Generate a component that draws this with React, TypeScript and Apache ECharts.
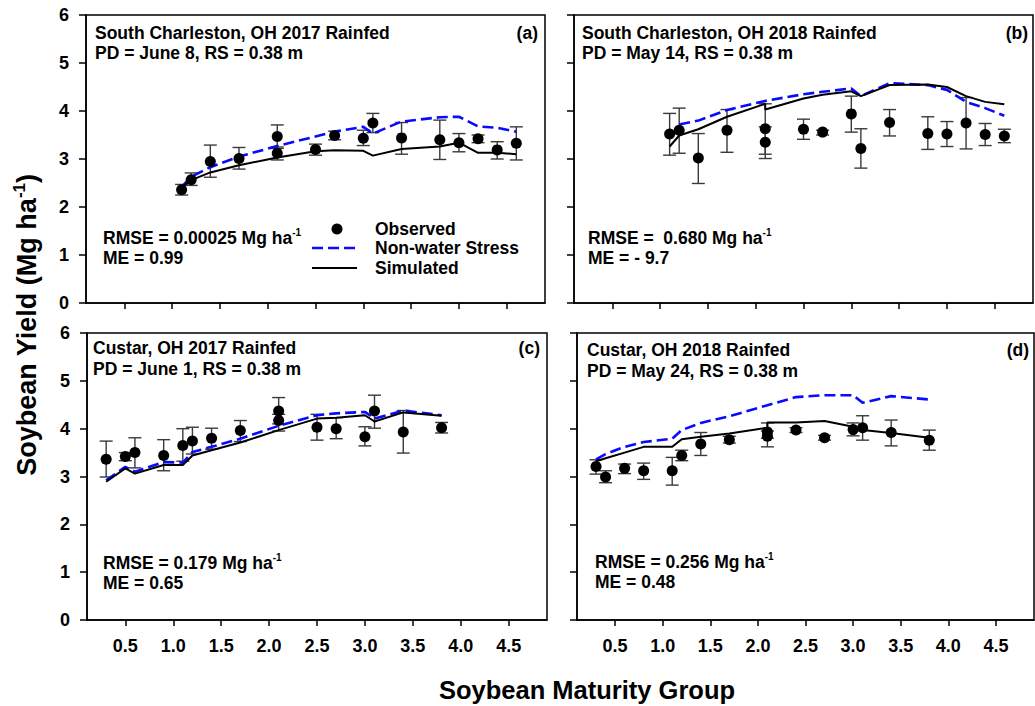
import React, { useEffect, useRef } from "react";
import * as echarts from "echarts";

// ---------- axis ticks ----------
const xTickValues = [0.5, 1.0, 1.5, 2.0, 2.5, 3.0, 3.5, 4.0, 4.5];

// ---------- Panel (a) South Charleston 2017 ----------
const aObsX = [1.1, 1.2, 1.4, 1.7, 2.1, 2.1, 2.5, 2.7, 3.0, 3.1, 3.4, 3.8, 4.0, 4.2, 4.4, 4.6];
const aObsY = [2.36, 2.57, 2.95, 3.01, 3.47, 3.12, 3.2, 3.49, 3.43, 3.75, 3.44, 3.4, 3.34, 3.42, 3.19, 3.33];
const aErrLo = [2.25, 2.45, 2.62, 2.79, 3.22, 2.98, 3.08, 3.4, 3.28, 3.55, 3.1, 2.99, 3.15, 3.34, 3.0, 2.98];
const aErrHi = [2.47, 2.71, 3.29, 3.24, 3.71, 3.25, 3.31, 3.58, 3.6, 3.95, 3.76, 3.81, 3.53, 3.5, 3.36, 3.67];
const aSimX = [1.1, 1.2, 1.4, 1.7, 2.1, 2.5, 2.7, 3.0, 3.1, 3.4, 3.8, 4.0, 4.2, 4.4, 4.6];
const aSim = [2.42, 2.56, 2.72, 2.87, 3.03, 3.16, 3.18, 3.17, 3.07, 3.21, 3.26, 3.34, 3.13, 3.13, 3.1];
const aNwsX = [1.1, 1.2, 1.4, 1.7, 2.1, 2.5, 2.7, 3.0, 3.1, 3.4, 3.8, 4.0, 4.2, 4.4, 4.6];
const aNws = [2.42, 2.63, 2.83, 3.05, 3.27, 3.47, 3.57, 3.67, 3.53, 3.78, 3.87, 3.88, 3.68, 3.65, 3.57];

// ---------- Panel (b) South Charleston 2018 ----------
const bObsX = [1.1, 1.2, 1.4, 1.7, 2.1, 2.1, 2.5, 2.7, 3.0, 3.1, 3.4, 3.8, 4.0, 4.2, 4.4, 4.6];
const bObsY = [3.52, 3.6, 3.02, 3.6, 3.63, 3.35, 3.62, 3.56, 3.94, 3.22, 3.76, 3.53, 3.52, 3.75, 3.51, 3.48];
const bErrLo = [3.08, 3.12, 2.49, 3.14, 3.1, 3.01, 3.41, 3.5, 3.56, 2.81, 3.48, 3.2, 3.26, 3.21, 3.28, 3.34];
const bErrHi = [3.95, 4.06, 3.53, 4.03, 4.15, 3.67, 3.83, 3.6, 4.31, 3.63, 4.03, 3.88, 3.78, 4.28, 3.74, 3.62];
const bSimX = [1.1, 1.2, 1.4, 1.7, 2.1, 2.1, 2.5, 2.7, 3.0, 3.1, 3.4, 3.8, 4.0, 4.2, 4.4, 4.6];
const bSim = [3.26, 3.49, 3.62, 3.88, 4.15, 4.03, 4.26, 4.34, 4.41, 4.31, 4.54, 4.55, 4.5, 4.31, 4.19, 4.14];
const bNwsX = [1.2, 1.4, 1.7, 2.1, 2.5, 2.7, 3.0, 3.1, 3.4, 3.8, 4.0, 4.2, 4.4, 4.6];
const bNws = [3.72, 3.8, 4.02, 4.21, 4.35, 4.4, 4.47, 4.31, 4.58, 4.54, 4.44, 4.19, 4.06, 3.9];

// ---------- Panel (c) Custar 2017 ----------
const cObsX = [0.3, 0.5, 0.6, 0.9, 1.1, 1.2, 1.4, 1.7, 2.1, 2.1, 2.5, 2.7, 3.0, 3.1, 3.4, 3.8];
const cObsY = [3.36, 3.42, 3.5, 3.44, 3.65, 3.74, 3.8, 3.96, 4.37, 4.17, 4.03, 4.0, 3.83, 4.37, 3.93, 4.02];
const cErrLo = [2.99, 3.33, 3.18, 3.12, 3.32, 3.47, 3.57, 3.73, 4.1, 3.95, 3.76, 3.79, 3.64, 4.01, 3.49, 3.91];
const cErrHi = [3.74, 3.5, 3.81, 3.77, 4.0, 4.03, 4.01, 4.17, 4.65, 4.3, 4.3, 4.23, 4.04, 4.7, 4.38, 4.13];
const cSimX = [0.3, 0.5, 0.6, 0.9, 1.1, 1.2, 1.4, 1.7, 2.1, 2.5, 2.7, 3.0, 3.1, 3.4, 3.8];
const cSim = [2.89, 3.17, 3.06, 3.24, 3.24, 3.44, 3.55, 3.71, 3.97, 4.21, 4.23, 4.28, 4.15, 4.34, 4.27];
const cNwsX = [0.3, 0.5, 0.6, 0.9, 1.1, 1.2, 1.4, 1.7, 2.1, 2.5, 2.7, 3.0, 3.1, 3.4, 3.8];
const cNws = [2.92, 3.2, 3.1, 3.3, 3.29, 3.51, 3.62, 3.79, 4.06, 4.28, 4.32, 4.35, 4.21, 4.38, 4.28];

// ---------- Panel (d) Custar 2018 ----------
const dObsX = [0.3, 0.4, 0.6, 0.8, 1.1, 1.2, 1.4, 1.7, 2.1, 2.1, 2.4, 2.7, 3.0, 3.1, 3.4, 3.8];
const dObsY = [3.21, 2.99, 3.17, 3.12, 3.12, 3.44, 3.68, 3.77, 3.93, 3.84, 3.97, 3.81, 3.98, 4.02, 3.92, 3.76];
const dErrLo = [3.05, 2.87, 3.06, 2.94, 2.82, 3.33, 3.44, 3.7, 3.8, 3.62, 3.92, 3.76, 3.85, 3.76, 3.64, 3.55];
const dErrHi = [3.35, 3.12, 3.26, 3.28, 3.4, 3.55, 3.92, 3.84, 4.12, 3.95, 4.02, 3.86, 4.12, 4.27, 4.18, 3.97];
const dSimX = [0.3, 0.4, 0.6, 0.8, 1.1, 1.2, 1.4, 1.7, 2.1, 2.1, 2.4, 2.7, 3.0, 3.1, 3.4, 3.8];
const dSim = [3.32, 3.38, 3.5, 3.62, 3.62, 3.78, 3.83, 3.9, 4.02, 4.13, 4.13, 4.16, 4.04, 3.97, 3.91, 3.81];
const dNwsX = [0.3, 0.4, 0.6, 0.8, 1.1, 1.2, 1.4, 1.7, 2.1, 2.4, 2.7, 3.0, 3.1, 3.4, 3.8];
const dNws = [3.36, 3.47, 3.62, 3.72, 3.79, 3.97, 4.12, 4.26, 4.49, 4.66, 4.7, 4.7, 4.54, 4.68, 4.61];

// ---------- texts ----------
const panelTitles = [
  "South Charleston, OH 2017 Rainfed",
  "South Charleston, OH 2018 Rainfed",
  "Custar, OH 2017 Rainfed",
  "Custar, OH 2018 Rainfed",
];
const panelSubtitles = [
  "PD = June 8, RS = 0.38 m",
  "PD = May 14, RS = 0.38 m",
  "PD = June 1, RS = 0.38 m",
  "PD = May 24, RS = 0.38 m",
];
const panelLetters = ["(a)", "(b)", "(c)", "(d)"];
const rmseTexts = ["RMSE = 0.00025 Mg ha", "RMSE =  0.680 Mg ha", "RMSE = 0.179 Mg ha", "RMSE = 0.256 Mg ha"];
const meTexts = ["ME = 0.99", "ME = - 9.7", "ME = 0.65", "ME = 0.48"];
const legendNames = ["Observed", "Non-water Stress", "Simulated"];

const FONT = "'Liberation Sans', Arial, Helvetica, sans-serif";
const BLUE = "#0a0aff";

const panels = [
  { obsX: aObsX, obsY: aObsY, lo: aErrLo, hi: aErrHi, simX: aSimX, sim: aSim, nwsX: aNwsX, nws: aNws },
  { obsX: bObsX, obsY: bObsY, lo: bErrLo, hi: bErrHi, simX: bSimX, sim: bSim, nwsX: bNwsX, nws: bNws },
  { obsX: cObsX, obsY: cObsY, lo: cErrLo, hi: cErrHi, simX: cSimX, sim: cSim, nwsX: cNwsX, nws: cNws },
  { obsX: dObsX, obsY: dObsY, lo: dErrLo, hi: dErrHi, simX: dSimX, sim: dSim, nwsX: dNwsX, nws: dNws },
];

// layout (pixels)
const gridBoxes = [
  { left: 86, top: 15, width: 459, height: 288 },
  { left: 574, top: 15, width: 459, height: 288 },
  { left: 87, top: 333, width: 460, height: 287 },
  { left: 577, top: 333, width: 457, height: 287 },
];
const textPos = [
  { tx: 95, t1: 33, t2: 53, lx: 538, rx: 103, r1: 238, r2: 258 },
  { tx: 582, t1: 33, t2: 53, lx: 1028, rx: 588, r1: 238, r2: 258 },
  { tx: 93, t1: 348, t2: 369, lx: 540, rx: 103, r1: 563, r2: 583 },
  { tx: 587, t1: 350, t2: 371, lx: 1029, rx: 595, r1: 562, r2: 582 },
];

function buildOption() {
  const grid: any[] = [];
  const xAxis: any[] = [];
  const yAxis: any[] = [];
  const series: any[] = [];
  const graphic: any[] = [];
  const f17 = `bold 17.5px ${FONT}`;

  panels.forEach((p, i) => {
    grid.push({
      ...gridBoxes[i],
      show: true,
      borderColor: "#000",
      borderWidth: 1.5,
      containLabel: false,
      outerBoundsMode: "none",
    });
    xAxis.push({
      gridIndex: i,
      type: "value",
      min: 0.1,
      max: 4.9,
      splitLine: { show: false },
      axisLine: { show: true, onZero: false, lineStyle: { color: "#000", width: 1.5 } },
      axisTick: {
        show: true,
        inside: false,
        length: 6,
        customValues: xTickValues,
        lineStyle: { color: "#000", width: 1.5 },
      },
      axisLabel: {
        show: i >= 2,
        customValues: xTickValues,
        formatter: (v: number) => v.toFixed(1),
        margin: 17,
        color: "#000",
        fontSize: 18,
        fontWeight: "bold",
        fontFamily: FONT,
      },
    });
    yAxis.push({
      gridIndex: i,
      type: "value",
      min: 0,
      max: 6,
      interval: 1,
      splitLine: { show: false },
      axisLine: { show: true, onZero: false, lineStyle: { color: "#000", width: 1.5 } },
      axisTick: { show: true, inside: false, length: 7, lineStyle: { color: "#000", width: 1.5 } },
      axisLabel: {
        show: i % 2 === 0,
        margin: 17,
        color: "#000",
        fontSize: 18,
        fontWeight: "bold",
        fontFamily: FONT,
      },
    });

    series.push({
      type: "custom",
      name: "Error",
      xAxisIndex: i,
      yAxisIndex: i,
      z: 2,
      silent: true,
      encode: { x: 0, y: [1, 2] },
      data: p.obsX.map((x, k) => [x, p.lo[k], p.hi[k]]),
      renderItem: (params: any, api: any) => {
        const x = api.value(0);
        const lo = api.coord([x, api.value(1)]);
        const hi = api.coord([x, api.value(2)]);
        const w = 6.5;
        const st = { stroke: "#3a3a3a", lineWidth: 1.4 };
        return {
          type: "group",
          children: [
            { type: "line", shape: { x1: lo[0], y1: lo[1], x2: hi[0], y2: hi[1] }, style: st },
            { type: "line", shape: { x1: lo[0] - w, y1: lo[1], x2: lo[0] + w, y2: lo[1] }, style: st },
            { type: "line", shape: { x1: hi[0] - w, y1: hi[1], x2: hi[0] + w, y2: hi[1] }, style: st },
          ],
        };
      },
    });
    series.push({
      type: "line",
      name: legendNames[1],
      xAxisIndex: i,
      yAxisIndex: i,
      z: 3,
      symbol: "none",
      showSymbol: false,
      data: p.nwsX.map((x, k) => [x, p.nws[k]]),
      lineStyle: { color: BLUE, width: 2.6, type: [11, 5] },
    });
    series.push({
      type: "line",
      name: legendNames[2],
      xAxisIndex: i,
      yAxisIndex: i,
      z: 4,
      symbol: "none",
      showSymbol: false,
      data: p.simX.map((x, k) => [x, p.sim[k]]),
      lineStyle: { color: "#000", width: 2 },
    });
    series.push({
      type: "scatter",
      name: legendNames[0],
      xAxisIndex: i,
      yAxisIndex: i,
      z: 5,
      symbol: "circle",
      symbolSize: 11,
      itemStyle: { color: "#000", opacity: 1 },
      data: p.obsX.map((x, k) => [x, p.obsY[k]]),
    });

    const tp = textPos[i];
    graphic.push({
      type: "text",
      x: tp.tx,
      y: tp.t1,
      style: { text: panelTitles[i], font: f17, fill: "#000", textAlign: "left", textVerticalAlign: "middle" },
    });
    graphic.push({
      type: "text",
      x: tp.tx,
      y: tp.t2,
      style: { text: panelSubtitles[i], font: f17, fill: "#000", textAlign: "left", textVerticalAlign: "middle" },
    });
    graphic.push({
      type: "text",
      x: tp.lx,
      y: tp.t1,
      style: { text: panelLetters[i], font: f17, fill: "#000", textAlign: "right", textVerticalAlign: "middle" },
    });
    graphic.push({
      type: "text",
      x: tp.rx,
      y: tp.r1,
      style: {
        text: `{n|${rmseTexts[i]}}{s|-1}`,
        fill: "#000",
        textAlign: "left",
        textVerticalAlign: "middle",
        rich: {
          n: { font: f17, fill: "#000", lineHeight: 22 },
          s: { font: `bold 10px ${FONT}`, fill: "#000", verticalAlign: "top" },
        },
      },
    });
    graphic.push({
      type: "text",
      x: tp.rx,
      y: tp.r2,
      style: { text: meTexts[i], font: f17, fill: "#000", textAlign: "left", textVerticalAlign: "middle" },
    });
  });

  // legend in panel (a)
  graphic.push({ type: "circle", shape: { cx: 337, cy: 229, r: 5.5 }, style: { fill: "#000" } });
  graphic.push({
    type: "line",
    shape: { x1: 312, y1: 248, x2: 357, y2: 248 },
    style: { stroke: BLUE, lineWidth: 2.6, lineDash: [11, 5] },
  });
  graphic.push({
    type: "line",
    shape: { x1: 312, y1: 268, x2: 357, y2: 268 },
    style: { stroke: "#000", lineWidth: 2 },
  });
  [229, 248, 268].forEach((yy, k) => {
    graphic.push({
      type: "text",
      x: 375,
      y: yy,
      style: { text: legendNames[k], font: f17, fill: "#000", textAlign: "left", textVerticalAlign: "middle" },
    });
  });

  // axis titles
  graphic.push({
    type: "text",
    x: 587,
    y: 690,
    style: {
      text: "Soybean Maturity Group",
      font: `bold 25.5px ${FONT}`,
      fill: "#000",
      textAlign: "center",
      textVerticalAlign: "middle",
    },
  });
  graphic.push({
    type: "text",
    x: 27,
    y: 325,
    rotation: Math.PI / 2,
    style: {
      text: "{n|Soybean Yield (Mg ha}{s|-1}{n|)}",
      fill: "#000",
      textAlign: "center",
      textVerticalAlign: "middle",
      rich: {
        n: { font: `bold 27px ${FONT}`, fill: "#000", lineHeight: 32 },
        s: { font: `bold 17px ${FONT}`, fill: "#000", verticalAlign: "top" },
      },
    },
  });

  return {
    animation: false,
    backgroundColor: "#fff",
    grid,
    xAxis,
    yAxis,
    series,
    graphic,
  };
}

export default function App() {
  const ref = useRef<HTMLDivElement>(null);
  useEffect(() => {
    if (!ref.current) return;
    const chart = echarts.init(ref.current, undefined, { renderer: "svg" });
    chart.setOption(buildOption());
    return () => chart.dispose();
  }, []);
  return (
    <div
      ref={ref}
      style={{ position: "fixed", left: 0, top: 0, width: 1035, height: 706, background: "#fff" }}
    />
  );
}
